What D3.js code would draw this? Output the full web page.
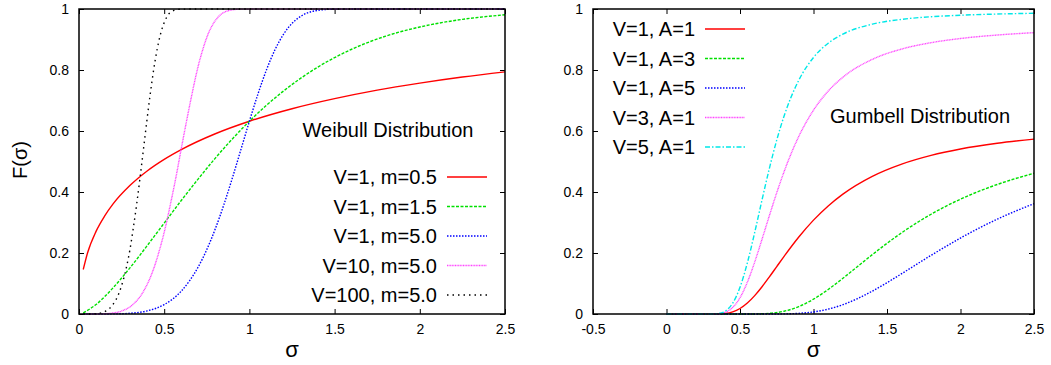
<!DOCTYPE html>
<html>
<head>
<meta charset="utf-8">
<script src="https://cdn.jsdelivr.net/npm/d3@7"></script>
<style>
  body { margin: 0; background: #fff; }
  svg, svg text { font-family: 'Liberation Sans', Arial, Helvetica, sans-serif; }
  .tick line { stroke: #000; }
  .domain { display: none; }
</style>
</head>
<body>
<svg width="1051" height="365"></svg>
<script>
// Weibull panel: [sigma, F] pairs
const weibullV1m05 = [[0.025,0.146],[0.05,0.200],[0.1,0.271],[0.15,0.321],[0.2,0.361],[0.3,0.422],[0.4,0.469],[0.5,0.507],[0.6,0.539],[0.8,0.591],[1.0,0.632],[1.25,0.673],[1.5,0.706],[1.75,0.734],[2.0,0.757],[2.25,0.777],[2.5,0.794]];
const weibullV1m15 = [[0.025,0.004],[0.1,0.031],[0.2,0.086],[0.3,0.152],[0.4,0.224],[0.5,0.298],[0.6,0.372],[0.7,0.443],[0.8,0.511],[0.9,0.574],[1.0,0.632],[1.2,0.731],[1.4,0.809],[1.6,0.868],[1.8,0.911],[2.0,0.941],[2.25,0.966],[2.5,0.981]];
const weibullV1m5 = [[0.025,0],[0.2,0.0003],[0.3,0.0024],[0.4,0.0102],[0.5,0.0308],[0.6,0.0748],[0.7,0.1547],[0.75,0.2112],[0.8,0.2794],[0.85,0.3583],[0.9,0.4459],[0.95,0.5387],[1.0,0.6321],[1.05,0.7209],[1.1,0.8002],[1.15,0.8662],[1.2,0.917],[1.25,0.9527],[1.3,0.9756],[1.4,0.9954],[1.5,0.9995],[1.75,1],[2.0,1],[2.5,1]];
const weibullV10m5 = [[0.025,0],[0.126,0.0003],[0.189,0.0024],[0.252,0.0102],[0.316,0.0308],[0.379,0.0748],[0.442,0.1547],[0.473,0.2112],[0.505,0.2794],[0.536,0.3583],[0.568,0.4459],[0.599,0.5387],[0.631,0.6321],[0.663,0.7209],[0.694,0.8002],[0.726,0.8662],[0.757,0.917],[0.789,0.9527],[0.820,0.9756],[0.883,0.9954],[0.947,0.9995],[1.1,1],[1.5,1],[2.0,1],[2.5,1]];
const weibullV100m5 = [[0.025,0],[0.080,0.0003],[0.119,0.0024],[0.159,0.0102],[0.199,0.0308],[0.239,0.0748],[0.279,0.1547],[0.299,0.2112],[0.318,0.2794],[0.338,0.3583],[0.358,0.4459],[0.378,0.5387],[0.398,0.6321],[0.418,0.7209],[0.438,0.8002],[0.458,0.8662],[0.478,0.917],[0.498,0.9527],[0.517,0.9756],[0.557,0.9954],[0.597,0.9995],[0.7,1],[1.0,1],[1.5,1],[2.0,1],[2.5,1]];
const weibullLabels = ['V=1, m=0.5', 'V=1, m=1.5', 'V=1, m=5.0', 'V=10, m=5.0', 'V=100, m=5.0'];

// Gumbell panel
const gumbellV1A1 = [[0,0],[0.3,0],[0.35,0.0003],[0.4,0.0019],[0.45,0.0071],[0.5,0.0181],[0.55,0.036],[0.6,0.0603],[0.65,0.0895],[0.7,0.1218],[0.75,0.1555],[0.8,0.1891],[0.9,0.2525],[1.0,0.3078],[1.1,0.3544],[1.2,0.3931],[1.4,0.4514],[1.6,0.4916],[1.8,0.5202],[2.0,0.5411],[2.25,0.5599],[2.5,0.5735]];
const gumbellV1A3 = [[0,0],[0.5,0],[0.6,0.0002],[0.7,0.0022],[0.8,0.0092],[0.9,0.0243],[1.0,0.0486],[1.1,0.0804],[1.2,0.1171],[1.3,0.1558],[1.4,0.1946],[1.6,0.2664],[1.8,0.3271],[2.0,0.3765],[2.25,0.4247],[2.5,0.4614]];
const gumbellV1A5 = [[0,0],[0.7,0],[0.8,0.0004],[0.9,0.0021],[1.0,0.0067],[1.1,0.0159],[1.2,0.0306],[1.3,0.0506],[1.4,0.075],[1.5,0.1027],[1.6,0.1323],[1.8,0.1924],[2.0,0.2491],[2.25,0.3109],[2.5,0.3619]];
const gumbellV3A1 = [[0,0],[0.3,0],[0.35,0.0009],[0.4,0.0058],[0.45,0.0213],[0.5,0.0534],[0.55,0.1042],[0.6,0.1702],[0.65,0.2453],[0.7,0.3227],[0.75,0.3977],[0.8,0.4668],[0.9,0.5823],[1.0,0.6683],[1.1,0.7309],[1.2,0.7764],[1.4,0.8349],[1.6,0.8687],[1.8,0.8896],[2.0,0.9033],[2.25,0.9147],[2.5,0.9224]];
const gumbellV5A1 = [[0,0],[0.3,0],[0.35,0.0014],[0.4,0.0096],[0.45,0.0352],[0.5,0.0874],[0.55,0.1676],[0.6,0.2673],[0.65,0.3744],[0.7,0.4777],[0.75,0.5704],[0.8,0.6493],[0.9,0.7666],[1.0,0.8411],[1.1,0.8879],[1.2,0.9177],[1.4,0.9503],[1.6,0.9661],[1.8,0.9746],[2.0,0.9796],[2.25,0.9835],[2.5,0.9859]];
const gumbellLabels = ['V=1, A=1', 'V=1, A=3', 'V=1, A=5', 'V=3, A=1', 'V=5, A=1'];

const xTicksLeft = [0, 0.5, 1, 1.5, 2, 2.5];
const xTicksRight = [-0.5, 0, 0.5, 1, 1.5, 2, 2.5];
const yTicks = [0, 0.2, 0.4, 0.6, 0.8, 1];

// line styles
const colors = ['#ff0000', '#00e000', '#0000ff', '#ff44ff', '#00e8e8'];
const dashes = [null, '3,1.5', '1.5,1.5', '1,0.6', '5,2,1.5,2'];
const blackDash = '1.5,4';

const svg = d3.select('svg');
const FONT = "'Liberation Sans', Arial, Helvetica, sans-serif";

function panel(opts) {
  const x = d3.scaleLinear().domain(opts.xDomain).range([opts.left, opts.right]);
  const y = d3.scaleLinear().domain([0, 1]).range([314, 9]);
  const g = svg.append('g');

  // ticks (inward, mirrored)
  const fmt = d => String(d);
  g.append('g')
    .attr('transform', 'translate(0,314)')
    .call(d3.axisBottom(x).tickValues(opts.xTicks).tickFormat(fmt).tickSizeInner(-5).tickSizeOuter(0).tickPadding(10))
    .attr('font-family', FONT).attr('font-size', 14)
    .call(a => a.selectAll('text').attr('fill', '#000'));
  g.append('g')
    .attr('transform', 'translate(0,9)')
    .call(d3.axisTop(x).tickValues(opts.xTicks).tickFormat('').tickSizeInner(-5).tickSizeOuter(0));
  g.append('g')
    .attr('transform', `translate(${opts.left},0)`)
    .call(d3.axisLeft(y).tickValues(yTicks).tickFormat(fmt).tickSizeInner(-5).tickSizeOuter(0).tickPadding(10))
    .attr('font-family', FONT).attr('font-size', 14)
    .call(a => a.selectAll('text').attr('fill', '#000'));
  g.append('g')
    .attr('transform', `translate(${opts.right},0)`)
    .call(d3.axisRight(y).tickValues(yTicks).tickFormat('').tickSizeInner(-5).tickSizeOuter(0));

  const line = d3.line().x(d => x(d[0])).y(d => y(d[1])).curve(d3.curveMonotoneX);

  opts.series.forEach((s, i) => {
    g.append('path')
      .datum(s.data)
      .attr('d', line)
      .attr('fill', 'none')
      .attr('stroke', s.color)
      .attr('stroke-width', 1.4)
      .attr('stroke-dasharray', s.dash);

    // legend entry
    const ly = opts.legendY + i * opts.legendStep;
    g.append('text')
      .attr('x', opts.legendX)
      .attr('y', ly + 7)
      .attr('text-anchor', 'end')
      .attr('font-size', 20)
      .text(s.label);
    g.append('line')
      .attr('x1', opts.legendX + 10).attr('x2', opts.legendX + 50)
      .attr('y1', ly).attr('y2', ly)
      .attr('stroke', s.color)
      .attr('stroke-width', 1.4)
      .attr('stroke-dasharray', s.dash);
  });

  g.append('text')
    .attr('x', opts.titleX)
    .attr('y', opts.titleY)
    .attr('text-anchor', 'middle')
    .attr('font-size', 20)
    .text(opts.title);

  // frame
  g.append('rect')
    .attr('x', opts.left).attr('y', 9)
    .attr('width', opts.right - opts.left).attr('height', 305)
    .attr('fill', 'none').attr('stroke', '#000').attr('stroke-width', 1.5);

  g.append('text')
    .attr('x', (opts.left + opts.right) / 2)
    .attr('y', 357)
    .attr('text-anchor', 'middle')
    .attr('font-size', 22)
    .text('σ');
}

panel({
  xDomain: [0, 2.5], left: 79, right: 505, xTicks: xTicksLeft,
  series: [weibullV1m05, weibullV1m15, weibullV1m5, weibullV10m5, weibullV100m5].map((d, i) => ({
    data: d, label: weibullLabels[i],
    color: i < 4 ? colors[i] : '#000',
    dash: i < 4 ? dashes[i] : blackDash
  })),
  legendX: 437, legendY: 177, legendStep: 29.5,
  title: 'Weibull Distribution', titleX: 388, titleY: 137
});

panel({
  xDomain: [-0.5, 2.5], left: 593, right: 1034, xTicks: xTicksRight,
  series: [gumbellV1A1, gumbellV1A3, gumbellV1A5, gumbellV3A1, gumbellV5A1].map((d, i) => ({
    data: d, label: gumbellLabels[i], color: colors[i], dash: dashes[i]
  })),
  legendX: 695, legendY: 29, legendStep: 29.5,
  title: 'Gumbell Distribution', titleX: 920, titleY: 123
});

svg.append('text')
  .attr('transform', 'translate(27,160) rotate(-90)')
  .attr('text-anchor', 'middle')
  .attr('font-size', 20)
  .text('F(σ)');
</script>
</body>
</html>
